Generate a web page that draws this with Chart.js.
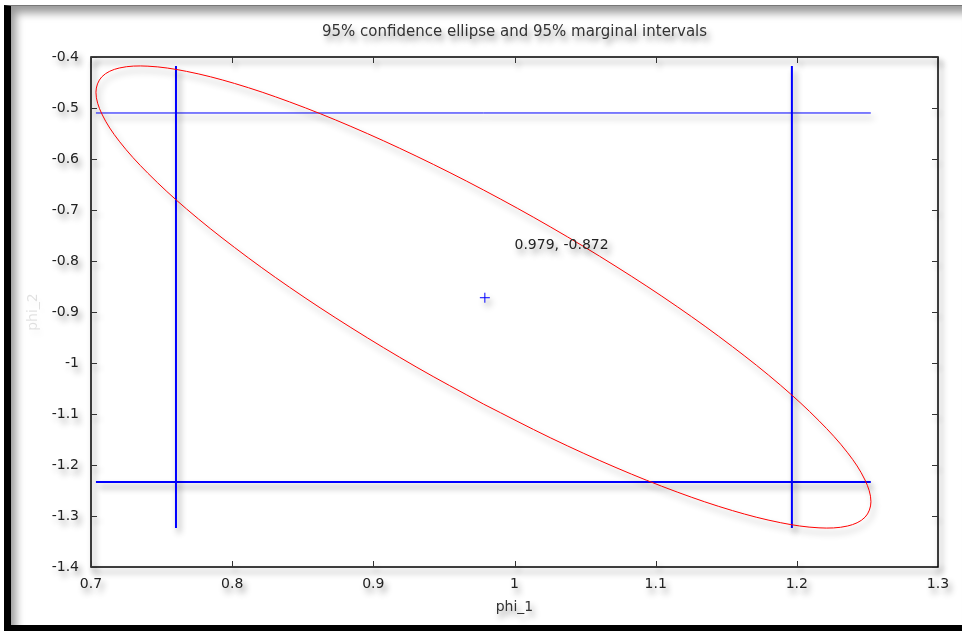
<!DOCTYPE html>
<html>
<head>
<meta charset="utf-8">
<script src="https://cdn.jsdelivr.net/npm/chart.js@4"></script>
<style>
  html, body { margin: 0; padding: 0; background: #fff; }
  body { width: 962px; height: 631px; position: relative; overflow: hidden; }
  .frame {
    position: absolute; left: 4px; top: 5px; right: 0; bottom: 0;
    border-left: 7px solid #000; border-bottom: 6px solid #000; border-top: 1px solid #777;
    background: #fff;
    box-shadow: inset 7px 9px 9px -2px rgba(0,0,0,0.4);
  }
  #chart { position: absolute; left: 0; top: 0; }
</style>
</head>
<body>
<div class="frame"></div>
<canvas id="chart" width="962" height="631"></canvas>
<script>
// confidence ellipse (starts at the middle of the long lower side)
const ellipseX = [0.978, 0.9303, 0.8841, 0.8407, 0.8016, 0.7677, 0.7403, 0.7200, 0.7077, 0.7035,
  0.7077, 0.7200, 0.7403, 0.7677, 0.8016, 0.8407, 0.8841, 0.9303, 0.978, 1.0257,
  1.0719, 1.1153, 1.1544, 1.1883, 1.2157, 1.2360, 1.2483, 1.2525, 1.2483, 1.2360,
  1.2157, 1.1883, 1.1544, 1.1153, 1.0719, 1.0257, 0.978];
const ellipseY = [-1.0805, -1.0076, -0.9305, -0.8516, -0.7733, -0.6980, -0.6279, -0.5651, -0.5117, -0.4691,
  -0.4388, -0.4216, -0.4180, -0.4282, -0.4518, -0.4881, -0.5361, -0.5942, -0.6607, -0.7336,
  -0.8107, -0.8896, -0.9679, -1.0432, -1.1133, -1.1761, -1.2295, -1.2721, -1.3024, -1.3196,
  -1.3232, -1.3130, -1.2894, -1.2531, -1.2051, -1.1470, -1.0805];

// 95% marginal intervals
const phi1Interval = [0.7602, 1.1965];
const phi2Interval = [-1.2333, -0.5098];
// extent of the marginal lines
const phi1Span = [0.7035, 1.2524];
const phi2Span = [-1.3235, -0.4176];

const center = [0.979, -0.872];
const centerLabel = '0.979, -0.872';
const centerLabelPos = [1.0, -0.77];

const xTicks = { min: 0.7, max: 1.3, step: 0.1 };
const yTicks = { min: -1.4, max: -0.4, step: 0.1 };

const BLUE = '#0000ff';
const FONT = "'DejaVu Sans', Verdana, sans-serif";

const toPts = (xs, ys) => xs.map((x, i) => ({ x, y: ys[i] }));

const datasets = [
  {
    data: toPts(ellipseX, ellipseY),
    borderColor: '#ff0000', borderWidth: 1, showLine: true, tension: 0.35,
    pointRadius: 0,
  },
  { data: [{ x: phi1Interval[0], y: phi2Span[1] }, { x: phi1Interval[0], y: phi2Span[0] }],
    borderColor: BLUE, borderWidth: 2, showLine: true, pointRadius: 0 },
  { data: [{ x: phi1Interval[1], y: phi2Span[1] }, { x: phi1Interval[1], y: phi2Span[0] }],
    borderColor: BLUE, borderWidth: 2, showLine: true, pointRadius: 0 },
  { data: [{ x: phi1Span[0], y: phi2Interval[1] }, { x: phi1Span[1], y: phi2Interval[1] }],
    borderColor: BLUE, borderWidth: 1, showLine: true, pointRadius: 0 },
  { data: [{ x: phi1Span[0], y: phi2Interval[0] }, { x: phi1Span[1], y: phi2Interval[0] }],
    borderColor: BLUE, borderWidth: 2, showLine: true, pointRadius: 0 },
  { data: [{ x: center[0], y: center[1] }],
    pointStyle: 'cross', pointRadius: 5, borderColor: BLUE, borderWidth: 1, showLine: false },
];

// soft drop shadow under everything, like the reference
const shadowPlugin = {
  id: 'shadow',
  beforeDraw(chart) {
    const ctx = chart.ctx;
    ctx.save();
    ctx.shadowColor = 'rgba(0,0,0,0.45)';
    ctx.shadowBlur = 6;
    ctx.shadowOffsetX = 3;
    ctx.shadowOffsetY = 5;
  },
  afterDraw(chart) {
    chart.ctx.restore();
  },
};

// gnuplot-style box with inward ticks on all four sides
const framePlugin = {
  id: 'frame',
  beforeDatasetsDraw(chart) {
    const { ctx, chartArea: a, scales: { x, y } } = chart;
    ctx.save();
    ctx.strokeStyle = '#000';
    ctx.lineWidth = 1.5;
    ctx.strokeRect(a.left, a.top, a.right - a.left, a.bottom - a.top);
    ctx.lineWidth = 1;
    ctx.strokeStyle = '#333';
    ctx.beginPath();
    x.ticks.forEach(t => {
      const px = Math.round(x.getPixelForValue(t.value)) + 0.5;
      ctx.moveTo(px, a.bottom); ctx.lineTo(px, a.bottom - 6);
      ctx.moveTo(px, a.top); ctx.lineTo(px, a.top + 6);
    });
    y.ticks.forEach(t => {
      const py = Math.round(y.getPixelForValue(t.value)) + 0.5;
      ctx.moveTo(a.left, py); ctx.lineTo(a.left + 6, py);
      ctx.moveTo(a.right, py); ctx.lineTo(a.right - 6, py);
    });
    ctx.stroke();
    ctx.restore();
  },
  afterDatasetsDraw(chart) {
    const { ctx, scales: { x, y } } = chart;
    ctx.save();
    ctx.font = '14px ' + FONT;
    ctx.fillStyle = '#222';
    ctx.textAlign = 'left';
    ctx.textBaseline = 'middle';
    ctx.fillText(centerLabel, x.getPixelForValue(centerLabelPos[0]), y.getPixelForValue(centerLabelPos[1]));
    ctx.restore();
  },
};

const fmt = v => String(+(+v).toFixed(1));

new Chart(document.getElementById('chart'), {
  type: 'scatter',
  data: { datasets },
  options: {
    responsive: false,
    animation: false,
    layout: { padding: { left: 0, right: 24, top: 0, bottom: 0 } },
    plugins: {
      legend: { display: false },
      tooltip: { enabled: false },
      title: {
        display: true, fullSize: false,
        text: '95% confidence ellipse and 95% marginal intervals',
        color: '#333', font: { family: FONT, size: 15, weight: 'normal' },
        padding: { top: 23, bottom: 16 },
      },
    },
    scales: {
      x: {
        type: 'linear', min: xTicks.min, max: xTicks.max,
        grid: { display: false, drawTicks: false },
        border: { display: false },
        ticks: { stepSize: xTicks.step, padding: 9, color: '#222', callback: fmt,
          font: { family: FONT, size: 14 } },
        title: { display: true, text: 'phi_1', color: '#333',
          font: { family: FONT, size: 14 }, padding: { top: 0, bottom: 15 } },
        afterFit(s) { s.height = 64; },
      },
      y: {
        type: 'linear', min: yTicks.min, max: yTicks.max,
        grid: { display: false, drawTicks: false },
        border: { display: false },
        ticks: { stepSize: yTicks.step, padding: 12, color: '#222', callback: fmt,
          font: { family: FONT, size: 14 } },
        title: { display: true, text: 'phi_2', color: 'rgba(0,0,0,0.12)',
          font: { family: FONT, size: 14 }, padding: { top: 25, bottom: 0 } },
        afterFit(s) { s.width = 91; },
      },
    },
  },
  plugins: [shadowPlugin, framePlugin],
});
</script>
</body>
</html>
